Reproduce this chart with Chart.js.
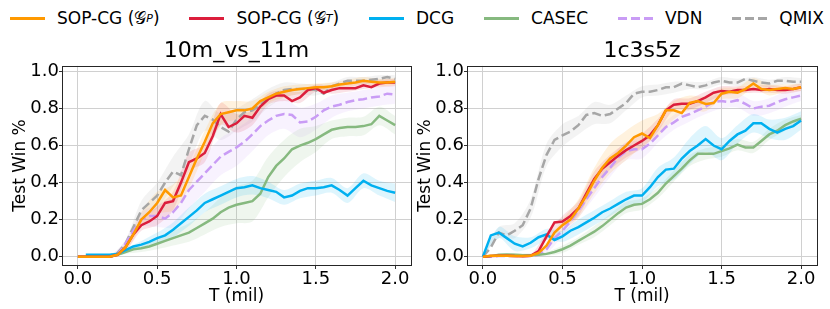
<!DOCTYPE html>
<html>
<head>
<meta charset="utf-8">
<script src="https://cdn.jsdelivr.net/npm/chart.js@4.4.1/dist/chart.umd.min.js"></script>
<style>
body{margin:0;background:#fff;width:830px;height:309px;overflow:hidden;position:relative;font-family:'DejaVu Sans',sans-serif;color:#000;}
#legend{position:absolute;left:10px;top:6px;width:814px;height:24px;display:flex;justify-content:space-between;align-items:center;font-size:17px;}
.item{display:flex;align-items:center;white-space:nowrap;}
.swatch{width:35px;height:3px;margin-right:12px;}
.item sub{font-size:11px;font-style:italic;}
canvas{position:absolute;top:30px;}
</style>
</head>
<body>
<div id="legend"></div>
<canvas id="left" width="415" height="279" style="left:0px"></canvas>
<canvas id="right" width="415" height="279" style="left:415px"></canvas>
<script>
// legend / series info (same order in both panels)
const names = ['SOP-CG (𝒢<sub>P</sub>)', 'SOP-CG (𝒢<sub>T</sub>)', 'DCG', 'CASEC', 'VDN', 'QMIX'];
const colors = ['#ff9900', '#dc1e3c', '#00b0f0', '#86b97f', '#c99cf5', '#a6a6a6'];
const dashed = [false, false, false, false, true, true];

const titles = ['10m_vs_11m', '1c3s5z'];
const xTicks = [0, 0.5, 1.0, 1.5, 2.0];
const yTicks = [0, 0.2, 0.4, 0.6, 0.8, 1.0];

// T (mil) sample points for the mean curves
const T = [0,0.05,0.1,0.15,0.2,0.25,0.3,0.35,0.4,0.45,0.5,0.55,0.6,0.65,0.7,0.75,0.8,0.85,0.9,0.95,
  1.0,1.05,1.1,1.15,1.2,1.25,1.3,1.35,1.4,1.45,1.5,1.55,1.6,1.65,1.7,1.75,1.8,1.85,1.9,1.95,2.0];
// coarser points for the shaded bands (every other T)
const TB = [0,0.1,0.2,0.3,0.4,0.5,0.6,0.7,0.8,0.9,1.0,1.1,1.2,1.3,1.4,1.5,1.6,1.7,1.8,1.9,2.0];

// ---- 10m_vs_11m ----
const gpL = [0,0,0,0,0,0.01,0.05,0.12,0.2,0.24,0.29,0.36,0.32,0.33,0.43,0.53,0.62,0.72,0.77,0.78,
  0.79,0.79,0.8,0.84,0.86,0.88,0.89,0.9,0.905,0.91,0.915,0.915,0.92,0.93,0.935,0.94,0.95,0.945,0.94,0.94,0.945];
const gtL = [0,0,0,0,0,0.01,0.05,0.12,0.17,0.19,0.22,0.29,0.3,0.4,0.51,0.53,0.56,0.65,0.77,0.7,
  0.72,0.76,0.75,0.81,0.85,0.87,0.87,0.84,0.86,0.9,0.91,0.885,0.9,0.91,0.91,0.91,0.925,0.915,0.935,0.94,0.94];
const dcgL = [null,0.01,0.01,0.01,0.01,0.015,0.035,0.055,0.065,0.08,0.1,0.115,0.145,0.18,0.215,0.25,0.29,0.31,0.33,0.35,
  0.37,0.375,0.385,0.37,0.36,0.35,0.32,0.33,0.355,0.37,0.37,0.375,0.385,0.36,0.33,0.37,0.41,0.385,0.37,0.355,0.345];
const casecL = [0,0,0,0,0,0.01,0.025,0.04,0.045,0.055,0.07,0.085,0.1,0.115,0.13,0.155,0.18,0.205,0.24,0.265,
  0.28,0.29,0.3,0.34,0.43,0.49,0.53,0.58,0.6,0.615,0.635,0.66,0.685,0.695,0.7,0.7,0.705,0.715,0.76,0.735,0.71];
const vdnL = [0,0,0,0,0,0.01,0.07,0.14,0.2,0.22,0.22,0.205,0.24,0.29,0.36,0.405,0.45,0.495,0.54,0.566,
  0.59,0.62,0.66,0.705,0.735,0.76,0.77,0.765,0.725,0.73,0.755,0.79,0.81,0.82,0.835,0.845,0.85,0.86,0.865,0.88,0.875];
const qmixL = [0,0,0,0,0.005,0.02,0.07,0.16,0.25,0.29,0.33,0.4,0.46,0.44,0.58,0.71,0.76,0.74,0.7,0.675,
  0.74,0.78,0.79,0.82,0.855,0.88,0.9,0.905,0.905,0.905,0.9,0.88,0.92,0.935,0.95,0.95,0.95,0.955,0.96,0.97,0.96];

const gpLs = [0,0,0,0.02,0.04,0.06,0.07,0.06,0.06,0.06,0.05,0.04,0.03,0.03,0.025,0.02,0.02,0.02,0.02,0.02,0.02];
const gtLs = [0,0,0,0.02,0.03,0.05,0.05,0.05,0.05,0.06,0.05,0.04,0.03,0.03,0.03,0.02,0.02,0.02,0.02,0.02,0.02];
const dcgLs = [0,0.005,0.005,0.01,0.02,0.03,0.04,0.05,0.05,0.05,0.05,0.05,0.045,0.04,0.04,0.04,0.04,0.04,0.04,0.04,0.05];
const casecLs = [0,0,0,0.01,0.02,0.03,0.04,0.05,0.06,0.08,0.1,0.11,0.11,0.1,0.09,0.07,0.05,0.05,0.05,0.05,0.05];
const vdnLs = [0,0,0,0.02,0.04,0.06,0.08,0.1,0.1,0.1,0.1,0.09,0.08,0.08,0.08,0.07,0.06,0.05,0.05,0.05,0.05];
const qmixLs = [0,0,0,0.02,0.05,0.07,0.08,0.08,0.08,0.07,0.06,0.06,0.05,0.04,0.03,0.03,0.02,0.02,0.02,0.02,0.02];

// ---- 1c3s5z ----
const gpR = [0,0.005,0.005,0.005,0.003,0.003,0.005,0.02,0.06,0.13,0.17,0.2,0.26,0.33,0.41,0.48,0.53,0.56,0.6,0.645,
  0.665,0.64,0.71,0.79,0.79,0.775,0.83,0.84,0.825,0.83,0.88,0.89,0.885,0.905,0.935,0.905,0.9,0.905,0.91,0.905,0.915];
const gtR = [0,0.003,0.005,0.005,0.003,0.002,0.005,0.03,0.11,0.185,0.19,0.22,0.26,0.34,0.42,0.475,0.51,0.545,0.575,0.6,
  0.625,0.655,0.71,0.79,0.82,0.825,0.825,0.84,0.86,0.885,0.895,0.89,0.9,0.9,0.905,0.9,0.905,0.9,0.9,0.905,0.915];
const dcgR = [0,0.115,0.13,0.1,0.07,0.055,0.075,0.105,0.12,0.09,0.11,0.14,0.16,0.185,0.21,0.24,0.26,0.285,0.31,0.33,
  0.33,0.375,0.43,0.47,0.475,0.53,0.57,0.6,0.635,0.6,0.58,0.625,0.66,0.68,0.72,0.72,0.69,0.67,0.69,0.705,0.735];
const casecR = [0,0.003,0.01,0.012,0.01,0.008,0.008,0.01,0.015,0.025,0.04,0.06,0.085,0.11,0.135,0.165,0.2,0.235,0.265,0.28,
  0.285,0.31,0.345,0.395,0.435,0.475,0.52,0.555,0.555,0.555,0.57,0.585,0.605,0.59,0.59,0.625,0.66,0.68,0.71,0.73,0.745];
const vdnR = [0,0,0.003,0.003,0.003,0.003,0.003,0.01,0.04,0.1,0.14,0.19,0.25,0.31,0.37,0.43,0.48,0.535,0.57,0.58,
  0.58,0.61,0.655,0.7,0.725,0.755,0.77,0.79,0.81,0.835,0.84,0.835,0.845,0.825,0.8,0.81,0.815,0.835,0.85,0.86,0.87];
const qmixR = [0,0.05,0.13,0.115,0.14,0.17,0.26,0.42,0.55,0.63,0.655,0.675,0.71,0.765,0.775,0.76,0.77,0.8,0.83,0.88,
  0.89,0.89,0.9,0.915,0.915,0.935,0.925,0.915,0.925,0.94,0.95,0.94,0.94,0.96,0.95,0.94,0.935,0.95,0.95,0.945,0.945];

const gpRs = [0,0,0,0.005,0.02,0.03,0.05,0.07,0.08,0.08,0.07,0.06,0.05,0.04,0.04,0.03,0.03,0.03,0.03,0.02,0.02];
const gtRs = [0,0,0,0.005,0.02,0.03,0.04,0.04,0.04,0.04,0.04,0.035,0.03,0.03,0.03,0.025,0.02,0.02,0.02,0.02,0.02];
const dcgRs = [0,0.03,0.04,0.03,0.03,0.03,0.04,0.04,0.04,0.04,0.04,0.05,0.06,0.07,0.07,0.06,0.05,0.05,0.05,0.06,0.05];
const casecRs = [0,0.005,0.01,0.01,0.01,0.02,0.02,0.03,0.03,0.03,0.03,0.03,0.03,0.03,0.03,0.03,0.03,0.03,0.03,0.03,0.02];
const vdnRs = [0,0,0,0.005,0.02,0.03,0.04,0.05,0.05,0.05,0.05,0.04,0.04,0.04,0.04,0.04,0.04,0.04,0.04,0.04,0.03];
const qmixRs = [0,0.03,0.04,0.05,0.06,0.06,0.05,0.06,0.05,0.04,0.03,0.03,0.03,0.02,0.02,0.02,0.02,0.02,0.02,0.02,0.02];

const FONT = 'DejaVu Sans';

function rgba(hex, a) {
  const n = parseInt(hex.slice(1), 16);
  return 'rgba(' + (n >> 16) + ',' + ((n >> 8) & 255) + ',' + (n & 255) + ',' + a + ')';
}

// legend at the top
const leg = document.getElementById('legend');
for (let i = 0; i < names.length; i++) {
  const c = colors[i];
  const bg = dashed[i] ? 'repeating-linear-gradient(90deg,' + c + ' 0 9px,transparent 9px 13px)' : c;
  leg.innerHTML += '<div class="item"><span class="swatch" style="background:' + bg + '"></span>' + names[i] + '</div>';
}

function buildDatasets(means, spreads) {
  const ds = [];
  for (let i = 0; i < means.length; i++) {
    const m = means[i], s = spreads[i];
    const lo = [], hi = [], line = [];
    for (let j = 0; j < TB.length; j++) {
      const v = m[j * 2];
      if (v === null) continue;
      lo.push({x: TB[j], y: Math.max(0, v - s[j])});
      hi.push({x: TB[j], y: v + s[j]});
    }
    for (let j = 0; j < T.length; j++) {
      if (m[j] !== null) line.push({x: T[j], y: m[j]});
    }
    const base = ds.length;
    ds.push({data: lo, borderWidth: 0, pointRadius: 0, fill: false, order: 100, tension: 0.3});
    ds.push({data: hi, borderWidth: 0, pointRadius: 0, fill: base, backgroundColor: rgba(colors[i], 0.13), order: 100, tension: 0.3});
    ds.push({data: line, borderColor: colors[i], borderWidth: 2.5, pointRadius: 0,
      borderDash: dashed[i] ? [9, 4] : [], fill: false, order: i});
  }
  return ds;
}

const frame = {
  id: 'frame',
  afterDatasetsDraw(chart) {
    const a = chart.chartArea, ctx = chart.ctx;
    ctx.save();
    ctx.strokeStyle = '#262626';
    ctx.lineWidth = 1;
    ctx.strokeRect(Math.round(a.left) + 0.5, Math.round(a.top) + 0.5, Math.round(a.right - a.left), Math.round(a.bottom - a.top));
    ctx.restore();
  }
};

function makeChart(id, title, means, spreads, yWidth, padRight, yTitlePad) {
  new Chart(document.getElementById(id), {
    type: 'line',
    data: {datasets: buildDatasets(means, spreads)},
    options: {
      responsive: false,
      animation: false,
      devicePixelRatio: 1,
      layout: {padding: {left: 0, right: padRight, top: 0, bottom: 0}},
      plugins: {
        legend: {display: false},
        tooltip: {enabled: false},
        title: {display: true, text: title, fullSize: false, color: '#000',
          font: {family: FONT, size: 22, weight: 'normal'}, padding: {top: 8, bottom: 1.5}}
      },
      scales: {
        x: {
          type: 'linear', min: -0.1, max: 2.1,
          afterBuildTicks: sc => { sc.ticks = xTicks.map(v => ({value: v})); },
          afterFit: sc => { sc.height = 44; },
          ticks: {color: '#000', font: {family: FONT, size: 18}, padding: 0, maxRotation: 0,
            callback: v => v.toFixed(1)},
          grid: {color: '#d0d0d0', tickColor: '#333', tickLength: 4},
          border: {display: false},
          title: {display: true, text: 'T (mil)', color: '#000', font: {family: FONT, size: 17}, padding: {top: 0, bottom: 2}}
        },
        y: {
          min: -0.045, max: 1.03,
          afterBuildTicks: sc => { sc.ticks = yTicks.map(v => ({value: v})); },
          afterFit: sc => { sc.width = yWidth; },
          ticks: {color: '#000', font: {family: FONT, size: 18}, padding: 0,
            callback: v => v.toFixed(1)},
          grid: {color: '#d0d0d0', tickColor: '#333', tickLength: 3},
          border: {display: false},
          title: {display: true, text: 'Test Win %', color: '#000', font: {family: FONT, size: 17}, padding: {top: yTitlePad, bottom: 0}}
        }
      }
    },
    plugins: [frame]
  });
}

makeChart('left', titles[0], [gpL, gtL, dcgL, casecL, vdnL, qmixL], [gpLs, gtLs, dcgLs, casecLs, vdnLs, qmixLs], 62, 4, 10);
makeChart('right', titles[1], [gpR, gtR, dcgR, casecR, vdnR, qmixR], [gpRs, gtRs, dcgRs, casecRs, vdnRs, qmixRs], 52, 13, 0);
</script>
</body>
</html>
